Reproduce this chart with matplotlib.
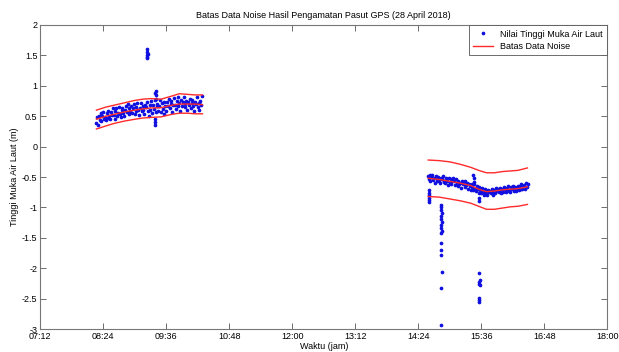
import numpy as np
import matplotlib.pyplot as plt
from matplotlib.ticker import FuncFormatter

plt.rcParams['font.family'] = ['Liberation Sans', 'DejaVu Sans']

# sesi pengamatan 1: mulai 08:16, interval 1 menit
t1_start, dt = 8 + 16 / 60, 1 / 60
h1 = [0.39, 0.48, 0.35, 0.51, 0.44, 0.55, 0.42, 0.50, 0.57, 0.46,
      0.48, 0.43, 0.56, 0.47, 0.59, 0.50, 0.45, 0.57, 0.52, 0.63,
      0.52, 0.45, 0.58, 0.63, 0.51, 0.56, 0.65, 0.54, 0.49, 0.61,
      0.64, 0.55, 0.50, 0.61, 0.66, 0.57, 0.70, 0.54, 0.63, 0.59,
      0.66, 0.56, 0.63, 0.70, 0.54, 0.65, 0.59, 0.72, 0.61, 0.52,
      0.63, 0.72, 0.58, 0.67, 0.61, 0.54, 0.68, 0.65, 0.74, 0.59,
      0.51, 0.68, 0.60, 0.75, 0.55, 0.69, 0.62, 0.76, 0.57, 0.66,
      0.70, 0.59, 0.66, 0.77, 0.57, 0.71, 0.62, 0.54, 0.73, 0.66,
      0.59, 0.73, 0.66, 0.79, 0.63, 0.70, 0.75, 0.57, 0.68, 0.80,
      0.69, 0.62, 0.75, 0.82, 0.66, 0.71, 0.59, 0.76, 0.67, 0.73,
      0.81, 0.65, 0.70, 0.75, 0.61, 0.74, 0.68, 0.79, 0.63, 0.72,
      0.77, 0.66, 0.59, 0.74, 0.70, 0.81, 0.65, 0.72, 0.61, 0.75, 0.68, 0.84]

# sesi pengamatan 2: mulai 14:35
t2_start = 14 + 35 / 60
h2 = [-0.49, -0.53, -0.46, -0.56, -0.50, -0.47, -0.55, -0.52, -0.60, -0.49,
      -0.52, -0.57, -0.50, -0.56, -0.60, -0.51, -0.54, -0.48, -0.58, -0.56,
      -0.60, -0.51, -0.56, -0.63, -0.52, -0.59, -0.54, -0.62, -0.57, -0.51,
      -0.57, -0.63, -0.54, -0.60, -0.65, -0.56, -0.62, -0.59, -0.68, -0.57,
      -0.61, -0.58, -0.67, -0.57, -0.63, -0.60, -0.69, -0.61, -0.65, -0.71,
      -0.61, -0.66, -0.72, -0.62, -0.69, -0.73, -0.64, -0.70, -0.76, -0.67,
      -0.71, -0.77, -0.68, -0.74, -0.80, -0.70, -0.76, -0.73, -0.79, -0.71,
      -0.75, -0.73, -0.77, -0.70, -0.74, -0.79, -0.71, -0.76, -0.68, -0.73,
      -0.70, -0.75, -0.68, -0.72, -0.77, -0.69, -0.74, -0.66, -0.70, -0.75,
      -0.68, -0.73, -0.65, -0.71, -0.74, -0.67, -0.70, -0.64, -0.73, -0.68,
      -0.67, -0.73, -0.68, -0.64, -0.72, -0.65, -0.70, -0.62, -0.69, -0.64,
      -0.63, -0.69, -0.60, -0.67, -0.61]

# data noise (jam, tinggi)
noise_t = [9.23, 9.24, 9.24, 9.25, 9.24, 9.23,
           9.38, 9.39, 9.39, 9.40, 9.40, 9.41, 9.39,
           14.60, 14.60, 14.61, 14.60, 14.61, 14.60,
           14.84, 14.84, 14.85, 14.84, 14.84, 14.85, 14.84, 14.84, 14.85, 14.84,
           14.84, 14.84, 14.84, 14.85, 14.84, 14.84, 14.84,
           15.45, 15.46, 15.47,
           15.56, 15.56, 15.56, 15.57, 15.56, 15.56, 15.57, 15.56, 15.56, 15.56]
noise_h = [1.45, 1.48, 1.51, 1.53, 1.56, 1.60,
           0.35, 0.40, 0.45, 0.78, 0.85, 0.92, 0.88,
           -0.72, -0.76, -0.80, -0.84, -0.88, -0.91,
           -0.99, -1.04, -1.09, -1.14, -1.19, -1.24, -1.29, -1.34, -1.38, -1.42,
           -1.59, -1.70, -1.78, -2.06, -2.33, -2.93, -0.96,
           -0.47, -0.52, -0.58,
           -0.85, -0.90, -2.08, -2.19, -2.23, -2.25, -2.28, -2.49, -2.52, -2.56]

# garis rata-rata dan batas atas/bawah
b1_t = [8.27, 8.45, 8.6, 8.8, 9.0, 9.15, 9.3, 9.5, 9.7, 9.85, 10.0, 10.15, 10.29]
b1_mid = [0.45, 0.50, 0.53, 0.57, 0.60, 0.62, 0.635, 0.64, 0.68, 0.70, 0.70, 0.70, 0.69]
b1_up = [0.60, 0.65, 0.68, 0.72, 0.76, 0.78, 0.79, 0.78, 0.83, 0.87, 0.86, 0.85, 0.85]
b1_lo = [0.29, 0.34, 0.38, 0.42, 0.45, 0.47, 0.48, 0.49, 0.53, 0.55, 0.55, 0.54, 0.54]

b2_t = [14.59, 14.8, 15.0, 15.2, 15.4, 15.55, 15.7, 15.85, 16.0, 16.15, 16.3, 16.48]
b2_mid = [-0.52, -0.54, -0.57, -0.60, -0.64, -0.70, -0.74, -0.73, -0.71, -0.70, -0.69, -0.66]
b2_up = [-0.22, -0.23, -0.25, -0.29, -0.34, -0.39, -0.43, -0.43, -0.41, -0.40, -0.39, -0.35]
b2_lo = [-0.82, -0.83, -0.86, -0.89, -0.93, -0.98, -1.03, -1.03, -1.01, -0.99, -0.98, -0.95]

xticks = [7.2, 8.4, 9.6, 10.8, 12.0, 13.2, 14.4, 15.6, 16.8, 18.0]

t1 = t1_start + dt * np.arange(len(h1))
t2 = t2_start + dt * np.arange(len(h2))
t_all = np.concatenate([t1, t2, noise_t])
h_all = np.concatenate([h1, h2, noise_h])

fig = plt.figure(figsize=(6.19, 3.52), dpi=100)
ax = fig.add_axes([0.065, 0.065, 0.916, 0.864])
red = '#ff2a2a'

ax.plot(t_all, h_all, '.', color='#1010e0', ms=3.3, label='Nilai Tinggi Muka Air Laut')
ax.plot(b1_t, b1_up, color=red, lw=1.0, zorder=3, label='Batas Data Noise')
for yy in (b1_mid, b1_lo):
    ax.plot(b1_t, yy, color=red, lw=1.0, zorder=3)
for yy in (b2_up, b2_mid, b2_lo):
    ax.plot(b2_t, yy, color=red, lw=1.0, zorder=3)

ax.set_xlim(7.2, 18.0)
ax.set_ylim(-3, 2)
ax.set_xticks(xticks)
ax.xaxis.set_major_formatter(FuncFormatter(
    lambda v, p: '%02d:%02d' % (int(round(v * 60)) // 60, int(round(v * 60)) % 60)))
ax.set_yticks(np.arange(-3, 2.01, 0.5))
ax.yaxis.set_major_formatter(FuncFormatter(lambda v, p: '%g' % v))
ax.tick_params(direction='in', top=True, right=True, labelsize=6.5, length=4,
               width=0.6, color='#555555', pad=2)
for s in ax.spines.values():
    s.set_color('#777777')
    s.set_linewidth(0.8)

ax.set_title('Batas Data Noise Hasil Pengamatan Pasut GPS (28 April 2018)', fontsize=6.5, pad=5)
ax.set_xlabel('Waktu (jam)', fontsize=6.5, labelpad=1)
ax.set_ylabel('Tinggi Muka Air Laut (m)', fontsize=6.5, labelpad=2)

leg = ax.legend(loc='upper right', fontsize=6.5, fancybox=False, framealpha=1,
                borderaxespad=0, handlelength=2.2, borderpad=0.5, labelspacing=0.35)
leg.get_frame().set_edgecolor('#555555')
leg.get_frame().set_linewidth(0.6)

fig.savefig('out.png', dpi=100)
